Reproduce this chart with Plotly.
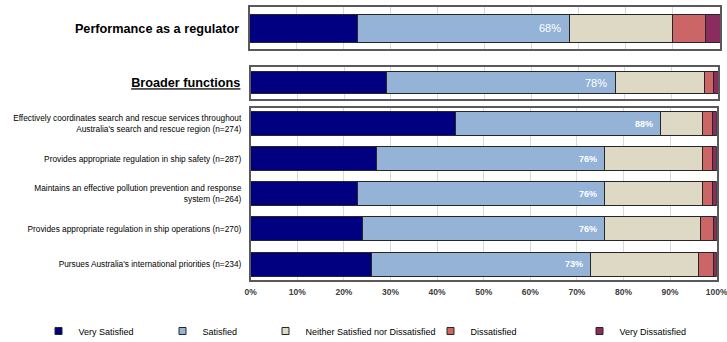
import plotly.graph_objects as go

# ---- data (percent of respondents) ----
series_names = ["Very Satisfied", "Satisfied", "Neither Satisfied nor Dissatisfied",
                "Dissatisfied", "Very Dissatisfied"]
series_colors = ["#000080", "#95B3D7", "#DDD9C4", "#CC6666", "#8B2C5E"]

overall_label = ["Performance as a regulator"]
overall_values = [[23], [45], [22], [7], [3]]

broader_label = ["Broader functions"]
broader_values = [[29], [49], [19], [2], [1]]

function_labels = [
    "Effectively coordinates search and rescue services throughout<br>Australia's search and rescue region (n=274)",
    "Provides appropriate regulation in ship safety (n=287)",
    "Maintains an effective pollution prevention and response<br>system (n=264)",
    "Provides appropriate regulation in ship operations (n=270)",
    "Pursues Australia's international priorities (n=234)",
]
very_satisfied = [44, 27, 23, 24, 26]
satisfied = [44, 49, 53, 52, 47]
neither = [9, 21, 21, 20.5, 23]
dissatisfied = [2, 2, 2, 2.8, 3.3]
very_dissatisfied = [1, 1, 1, 0.7, 0.7]
function_values = [very_satisfied, satisfied, neither, dissatisfied, very_dissatisfied]

x_ticks = list(range(0, 101, 10))
x_tick_text = [f"{t}%" for t in x_ticks]

FONT = "Liberation Sans, Arial, sans-serif"
W, H = 727, 342


def ydom(top_px, bottom_px):
    return [1 - bottom_px / H, 1 - top_px / H]


def xdom(left_px, right_px):
    return [left_px / W, right_px / W]


panels = [
    # (axis suffix, categories, values, bar width, y range, x domain, y domain)
    ("", overall_label, overall_values, 0.667, [-0.5, 0.5], xdom(249.5, 720), ydom(7.3, 49.3)),
    ("2", broader_label, broader_values, 0.69, [-0.5, 0.5], xdom(250.7, 718.3), ydom(66.7, 99)),
    ("3", function_labels, function_values, 0.684, [4.456, -0.456], xdom(250.7, 716.7), ydom(107.7, 280)),
]

fig = go.Figure()

for suffix, cats, values, bw, yr, xd, yd in panels:
    for name, color, vals in zip(series_names, series_colors, values):
        fig.add_trace(go.Bar(
            orientation="h", x=vals, y=cats, name=name,
            width=bw, showlegend=False, hoverinfo="skip",
            marker=dict(color=color, line=dict(color="#262626", width=1)),
            xaxis="x" + suffix, yaxis="y" + suffix,
        ))
    # label with the combined satisfied share
    bold = suffix == "3"
    for cat, vs, s in zip(cats, values[0], values[1]):
        total = vs + s
        fig.add_annotation(
            x=total, y=cat, xref="x" + suffix, yref="y" + suffix,
            text=(f"<b>{total:g}%</b>" if bold else f"{total:g}%"),
            showarrow=False, xanchor="right", xshift=-6,
            font=dict(family=FONT, size=9 if bold else 11, color="white"),
        )

    common_x = dict(
        domain=xd, range=[0, 100], tickvals=x_ticks, ticktext=x_tick_text,
        showgrid=True, gridcolor="#D9D9D9", gridwidth=1, zeroline=False,
        showline=True, linecolor="#595959", linewidth=1.5, mirror=True,
        ticks="", fixedrange=True, automargin=False,
        ticklabeloverflow="allow", ticklabelstandoff=3,
        anchor="y" + suffix,
        showticklabels=(suffix == "3"),
        tickfont=dict(family=FONT, size=8.5, color="#404040", weight="bold"),
    )
    common_y = dict(
        domain=yd, type="category", range=yr, categoryarray=cats,
        showline=True, linecolor="#595959", linewidth=1.5, mirror=True,
        showgrid=False, zeroline=False, ticks="", ticklabelstandoff=6,
        anchor="x" + suffix, fixedrange=True, automargin=False,
        ticklabeloverflow="allow",
    )
    if suffix == "3":
        common_y["tickfont"] = dict(family=FONT, size=8.3, color="#000000")
    elif suffix == "2":
        common_y["tickfont"] = dict(family=FONT, size=12.7, color="#000000",
                                    weight="bold", lineposition="under")
    else:
        common_y["tickfont"] = dict(family=FONT, size=12.7, color="#000000", weight="bold")

    fig.layout["xaxis" + suffix] = common_x
    fig.layout["yaxis" + suffix] = common_y

# legend entries, each placed in its own legend box along the bottom
legend_centers = [64.5, 188.5, 291.5, 456.5, 605.5]
for i, (name, color) in enumerate(zip(series_names, series_colors)):
    lg = "legend" if i == 0 else f"legend{i + 1}"
    fig.add_trace(go.Scatter(
        x=[None], y=[None], mode="markers", name=name,
        marker=dict(symbol="square", size=7, color=color,
                    line=dict(color="#262626", width=1)),
        xaxis="x3", yaxis="y3", legend=lg, showlegend=True,
    ))
    fig.layout[lg] = dict(
        x=(legend_centers[i] - 26) / W, xanchor="left",
        y=1 - 331 / H, yanchor="middle",
        orientation="h", itemwidth=30, borderwidth=0,
        bgcolor="rgba(0,0,0,0)",
        font=dict(family=FONT, size=9, color="#000000"),
        tracegroupgap=0,
    )

fig.update_layout(
    barmode="stack",
    width=W, height=H,
    margin=dict(l=0, r=0, t=0, b=0, autoexpand=False),
    paper_bgcolor="white", plot_bgcolor="white",
    font=dict(family=FONT),
)

fig.write_html("out.html")
